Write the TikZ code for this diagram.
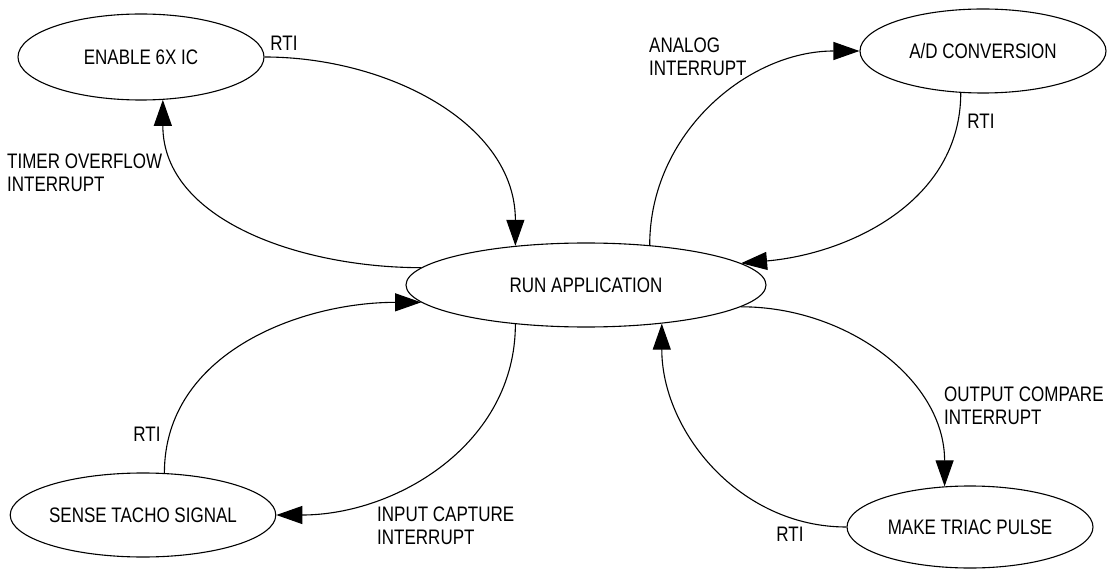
\documentclass[tikz,border=0pt]{standalone}
\usepackage{fontspec}
\setmainfont{Liberation Sans}[FakeStretch=0.81]
\usetikzlibrary{arrows.meta,shapes.geometric}
\tikzset{
  state/.style={draw, ellipse, line width=1.1pt, inner sep=0pt, font=\fontsize{21pt}{23pt}\selectfont},
  lbl/.style={inner sep=0pt, font=\fontsize{21pt}{23pt}\selectfont},
  conn/.style={line width=1.1pt, -{Triangle[length=26pt,width=18pt]}},
}
\begin{document}
\begin{tikzpicture}[x=1pt,y=-1pt]
\useasboundingbox (0,0) rectangle (1108,569);
\node[state, minimum width=246pt, minimum height=86pt] (en) at (141,57) {ENABLE 6X IC};
\node[state, minimum width=246pt, minimum height=84pt] (ad) at (983,51) {A/D CONVERSION};
\node[state, minimum width=360pt, minimum height=84pt] (run) at (586,285) {RUN APPLICATION};
\node[state, minimum width=244pt, minimum height=84pt] (st) at (143,515) {SENSE TACHO SIGNAL};
\node[state, minimum width=246pt, minimum height=82pt] (mt) at (970,527) {MAKE TRIAC PULSE};

\draw[conn] (en.0) to[out=0,in=90] (run.151);
\draw[conn] (run.174) to[out=180,in=-90] (en.-63);
\draw[conn] (run.32) to[out=90,in=180] (ad.180);
\draw[conn] (ad.-118) to[out=-90,in=5] (run.8.5);
\draw[conn] (st.63) to[out=90,in=180] (run.186);
\draw[conn] (run.209) to[out=-90,in=0] (st.0);
\draw[conn] (run.-8.3) to[out=0,in=90] (mt.122);
\draw[conn] (mt.180) to[out=180,in=-90] (run.-27.5);

\node[lbl] (l1) at (284,43) {RTI};
\node[lbl, align=left, anchor=west] (l2) at (7,173) {TIMER OVERFLOW\\INTERRUPT};
\node[lbl, align=left, anchor=west] (l3) at (649,56.5) {ANALOG\\INTERRUPT};
\node[lbl] (l4) at (981,121) {RTI};
\node[lbl] (l5) at (147,434) {RTI};
\node[lbl, align=left, anchor=west] (l6) at (377,526) {INPUT CAPTURE\\INTERRUPT};
\node[lbl, align=left, anchor=west] (l7) at (944,406) {OUTPUT COMPARE\\INTERRUPT};
\node[lbl] (l8) at (790,534) {RTI};
\end{tikzpicture}
\end{document}
